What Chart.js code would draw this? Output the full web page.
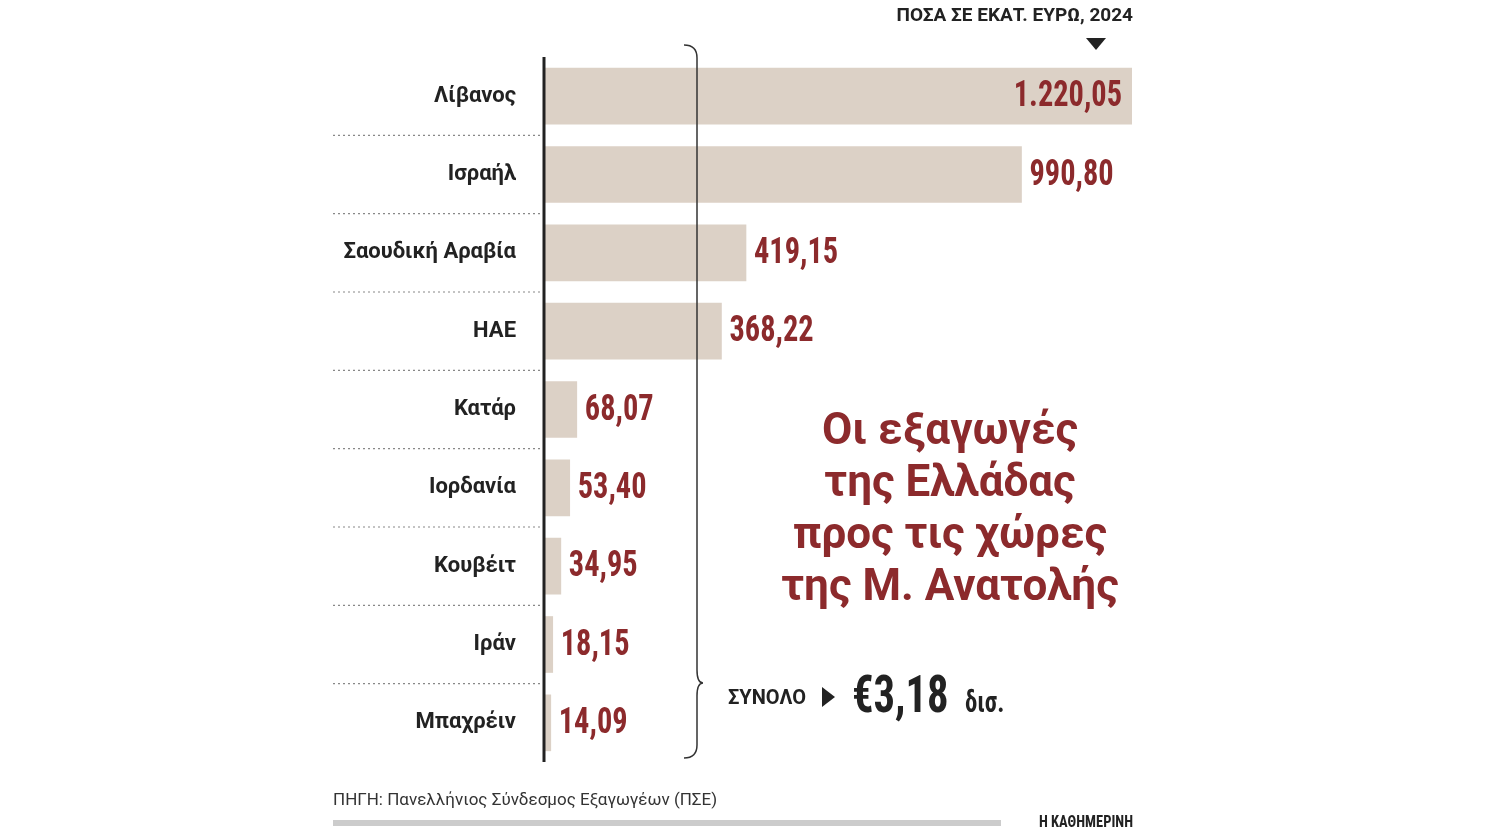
<!DOCTYPE html>
<html><head><meta charset="utf-8">
<script src="https://cdn.jsdelivr.net/npm/chart.js@4"></script>
<style>html,body{margin:0;background:#fff}#wrap{width:1490px;height:838px;position:relative}</style>
</head><body><div id="wrap"><canvas id="chart"></canvas></div>
<script>
// Δεδομένα
const countries = ['Λίβανος', 'Ισραήλ', 'Σαουδική Αραβία', 'ΗΑΕ', 'Κατάρ', 'Ιορδανία', 'Κουβέιτ', 'Ιράν', 'Μπαχρέιν'];
const values = [1220.05, 990.80, 419.15, 368.22, 68.07, 53.40, 34.95, 18.15, 14.09];
const valueLabels = ['1.220,05', '990,80', '419,15', '368,22', '68,07', '53,40', '34,95', '18,15', '14,09'];

const RED = '#8c2a2c';
const NARROW = '"Liberation Sans Narrow", "Roboto Condensed", "DejaVu Sans Condensed", sans-serif';

// schmaler Text per horizontaler Skalierung
function narrowText(c, txt, x, y, sx, align) {
    const w = c.measureText(txt).width * sx;
    const left = align === 'right' ? x - w : x;
    c.save(); c.translate(left, y); c.scale(sx, 1); c.textAlign = 'left'; c.fillText(txt, 0, 0); c.restore();
    return w;
}

// Zeichnet Werte, Trennlinien, Klammer und Texte
const extras = {
    id: 'extras',
    afterDatasetsDraw(chart) {
        const c = chart.ctx, a = chart.chartArea, y = chart.scales.y;
        const meta = chart.getDatasetMeta(0);
        c.save();
        // gestrichelte Trennlinien
        c.strokeStyle = '#888'; c.lineWidth = 1.2; c.setLineDash([2, 3]);
        for (let i = 0; i < countries.length - 1; i++) {
            const yy = (y.getPixelForValue(i) + y.getPixelForValue(i + 1)) / 2;
            c.beginPath(); c.moveTo(333, yy); c.lineTo(a.left, yy); c.stroke();
        }
        c.setLineDash([]);
        // Achsenlinie
        c.strokeStyle = '#222'; c.lineWidth = 3;
        c.beginPath(); c.moveTo(a.left, a.top); c.lineTo(a.left, a.bottom); c.stroke();
        // Werte
        c.fillStyle = RED; c.font = 'bold 37px ' + NARROW; c.textBaseline = 'middle';
        meta.data.forEach((bar, i) => {
            if (i === 0) narrowText(c, valueLabels[i], bar.x - 10, bar.y + 1, 0.82, 'right');
            else narrowText(c, valueLabels[i], bar.x + 8, bar.y + 1, 0.82, 'left');
        });
        // Klammer
        c.strokeStyle = '#333'; c.lineWidth = 1.5;
        c.beginPath();
        c.moveTo(684, 45); c.quadraticCurveTo(697, 45, 697, 58);
        c.lineTo(697, 670); c.quadraticCurveTo(697, 683, 703, 683);
        c.quadraticCurveTo(697, 683, 697, 696);
        c.lineTo(697, 745); c.quadraticCurveTo(697, 758, 684, 758);
        c.stroke();
        // Kopfzeile
        c.fillStyle = '#222'; c.textBaseline = 'alphabetic';
        c.font = 'bold 19px Roboto, sans-serif'; c.textAlign = 'right';
        c.fillText('ΠΟΣΑ ΣΕ ΕΚΑΤ. ΕΥΡΩ, 2024', 1133, 21);
        c.beginPath(); c.moveTo(1086, 38); c.lineTo(1106, 38); c.lineTo(1096, 50); c.closePath(); c.fill();
        // Titel
        c.fillStyle = RED; c.textAlign = 'center'; c.font = 'bold 44px Roboto, sans-serif';
        ['Οι εξαγωγές', 'της Ελλάδας', 'προς τις χώρες', 'της Μ. Ανατολής'].forEach((t, i) => c.fillText(t, 950, 444 + i * 52));
        // Summe
        c.fillStyle = '#222'; c.textAlign = 'left';
        c.font = 'bold 20px Roboto, sans-serif'; c.fillText('ΣΥΝΟΛΟ', 728, 704);
        c.beginPath(); c.moveTo(822, 687); c.lineTo(835, 697); c.lineTo(822, 707); c.closePath(); c.fill();
        c.font = 'bold 52px ' + NARROW; narrowText(c, '€3,18', 852, 712, 0.82, 'left');
        c.font = 'bold 30px ' + NARROW; narrowText(c, 'δισ.', 965, 712, 0.82, 'left');
        // Quelle und Fußzeile
        c.font = '17px Roboto, sans-serif'; c.fillStyle = '#333';
        c.fillText('ΠΗΓΗ: Πανελλήνιος Σύνδεσμος Εξαγωγέων (ΠΣΕ)', 333, 805);
        c.fillStyle = '#ccc'; c.fillRect(333, 820, 668, 6);
        c.fillStyle = '#222'; c.font = 'bold 17px ' + NARROW;
        narrowText(c, 'Η ΚΑΘΗΜΕΡΙΝΗ', 1133, 827, 0.85, 'right');
        c.restore();
    }
};

new Chart(document.getElementById('chart'), {
    type: 'bar',
    data: { labels: countries, datasets: [{ data: values, backgroundColor: '#dcd1c6', barThickness: 56 }] },
    options: {
        indexAxis: 'y', responsive: true, maintainAspectRatio: false, animation: false,
        layout: { padding: { left: 0, top: 57, right: 358, bottom: 76 } },
        plugins: { legend: { display: false }, tooltip: { enabled: false } },
        scales: {
            x: { display: false, min: 0, max: 1220.05 },
            y: {
                grid: { display: false }, border: { display: false },
                afterFit: s => { s.width = 544; },
                ticks: { color: '#222', padding: 20, font: { family: 'Roboto, sans-serif', size: 22, weight: 'bold' } }
            }
        }
    },
    plugins: [extras]
});
</script></body></html>
